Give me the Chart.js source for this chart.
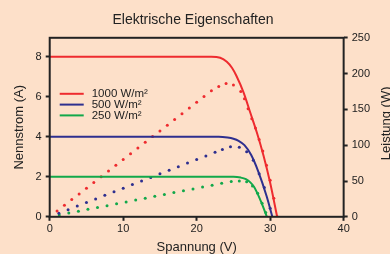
<!DOCTYPE html>
<html>
<head>
<meta charset="utf-8">
<script src="https://cdn.jsdelivr.net/npm/chart.js@4"></script>
<style>
  html, body { margin: 0; padding: 0; background: #fde0c9; overflow: hidden; }
  #wrap { width: 390px; height: 254px; }
</style>
</head>
<body>
<div id="wrap"><canvas id="chart"></canvas></div>
<script>
// Strom (A) über Spannung (V), je Einstrahlung
const v1000 = [0, 22, 23.2, 24.1, 24.8, 25.4, 26.4, 27.3, 28.2, 29.1, 30, 30.95];
const i1000 = [8, 8, 7.95, 7.75, 7.45, 7.05, 6.2, 5.2, 4.2, 3.05, 1.7, 0];
const v500 = [0, 23, 24.2, 25, 25.7, 26.5, 27.4, 28.4, 29.5, 30.3];
const i500 = [4, 4, 3.96, 3.9, 3.8, 3.58, 3.1, 2.25, 1.05, 0];
const v250 = [0, 25, 26, 26.7, 27.3, 27.8, 28.2, 28.8, 29.55];
const i250 = [2, 2, 1.96, 1.88, 1.72, 1.5, 1.22, 0.72, 0];

// Leistung (W), gepunktet
const pv1000 = [1, 2, 3, 4, 5, 6, 7, 8, 9, 10, 11, 12, 13, 14, 15, 16, 17, 18, 19, 20, 21, 22,
                23, 24, 25, 26, 26.5, 27, 27.5, 28, 28.5, 29, 29.5, 30, 30.5, 30.95];
const p1000 = [8, 16, 24, 32, 40, 48, 56, 64, 72, 80, 88, 96, 104, 112, 120, 128, 136, 144, 152, 160, 168, 176,
               182, 186, 184, 175, 165, 151, 137, 124, 108, 92, 72, 51, 26, 0];
const pv500 = [1.25, 2.5, 3.75, 5, 6.25, 7.5, 8.75, 10, 11.25, 12.5, 13.75, 15, 16.25, 17.5, 18.75, 20,
               21.25, 22.5, 23.5, 24.6, 25.8, 26.8, 27.7, 28.5, 29.2, 30];
const p500 = [5, 10, 15, 20, 25, 30, 35, 40, 45, 50, 55, 60, 65, 70, 75, 80,
              85, 90, 94, 98, 97, 91, 79, 60, 41, 12];
const pv250 = [1.3, 2.6, 3.9, 5.2, 6.5, 7.8, 9.1, 10.4, 11.7, 13, 14.3, 15.6, 16.9, 18.2, 19.5, 20.8,
               22.1, 23.4, 24.7, 25.8, 26.8, 27.6, 28.3, 28.9, 29.4];
const p250 = [2.6, 5.2, 7.8, 10.4, 13, 15.6, 18.2, 20.8, 23.4, 26, 28.6, 31.2, 33.8, 36.4, 39, 41.6,
              44.2, 46.8, 49.4, 50, 49, 43, 33, 19, 6];

const seriesLabels = ['1000 W/m²', '500 W/m²', '250 W/m²'];
const seriesColors = ['#ee2b2f', '#2e2f8f', '#12a84a'];
const xTicks = [0, 10, 20, 30, 40];
const yTicks = [0, 2, 4, 6, 8];
const y1Ticks = [0, 50, 100, 150, 200, 250];

const pts = (xs, ys) => xs.map((x, i) => ({ x, y: ys[i] }));
const ink = '#222';
const font = 'Arial, "Liberation Sans", sans-serif';

const curve = (label, xs, ys, color) => ({
  label, data: pts(xs, ys), yAxisID: 'y', showLine: true,
  borderColor: color, borderWidth: 2, pointRadius: 0,
  cubicInterpolationMode: 'monotone'
});
const dots = (xs, ys, color) => ({
  label: '', data: pts(xs, ys), yAxisID: 'y1', showLine: false,
  pointRadius: 1.5, pointBorderWidth: 0, pointBackgroundColor: color
});

// Rahmen, Legende im Plot und rechter Achsentitel
const extras = {
  id: 'extras',
  afterDraw(chart) {
    const { ctx, chartArea: a } = chart;
    ctx.save();
    ctx.strokeStyle = ink;
    ctx.lineWidth = 2;
    ctx.strokeRect(a.left, a.top, a.right - a.left, a.bottom - a.top);

    ctx.font = '11.5px ' + font;
    ctx.textBaseline = 'middle';
    seriesLabels.forEach((lab, i) => {
      const y = a.top + 56 + i * 10.8;
      ctx.strokeStyle = seriesColors[i];
      ctx.beginPath();
      ctx.moveTo(a.left + 10, y);
      ctx.lineTo(a.left + 34, y);
      ctx.stroke();
      ctx.fillStyle = ink;
      ctx.fillText(lab, a.left + 42, y + 0.5);
    });

    ctx.font = '13px ' + font;
    ctx.translate(386, (a.top + a.bottom) / 2 - 4);
    ctx.rotate(-Math.PI / 2);
    ctx.textAlign = 'center';
    ctx.fillText('Leistung (W)', 0, 0);
    ctx.restore();
  }
};

const gridOpts = { drawOnChartArea: false, tickLength: 4, tickColor: ink, tickWidth: 2 };
const tickFont = { family: font, size: 11 };

new Chart(document.getElementById('chart'), {
  type: 'scatter',
  data: {
    datasets: [
      curve(seriesLabels[0], v1000, i1000, seriesColors[0]),
      curve(seriesLabels[1], v500, i500, seriesColors[1]),
      curve(seriesLabels[2], v250, i250, seriesColors[2]),
      dots(pv1000, p1000, seriesColors[0]),
      dots(pv500, p500, seriesColors[1]),
      dots(pv250, p250, seriesColors[2])
    ]
  },
  options: {
    responsive: true,
    maintainAspectRatio: false,
    animation: false,
    layout: { padding: { left: 12, right: 16, top: 0, bottom: 0 } },
    plugins: {
      legend: { display: false },
      tooltip: { enabled: false },
      title: {
        display: true, text: 'Elektrische Eigenschaften', color: ink,
        font: { family: font, size: 14, weight: 'normal' },
        padding: { top: 12, bottom: 9 }
      }
    },
    scales: {
      x: {
        type: 'linear', min: 0, max: 40,
        afterBuildTicks: s => { s.ticks = xTicks.map(v => ({ value: v })); },
        grid: gridOpts, border: { display: false },
        ticks: { color: ink, font: tickFont, padding: 2 },
        title: { display: true, text: 'Spannung (V)', color: ink,
                 font: { family: font, size: 13, lineHeight: 1 }, padding: { top: 3, bottom: 0 } }
      },
      y: {
        position: 'left', min: 0, max: 8.95,
        afterBuildTicks: s => { s.ticks = yTicks.map(v => ({ value: v })); },
        grid: gridOpts, border: { display: false },
        ticks: { color: ink, font: tickFont, padding: 4 },
        title: { display: true, text: 'Nennstrom (A)', color: ink,
                 font: { family: font, size: 13 }, padding: { top: 0, bottom: 4 } }
      },
      y1: {
        position: 'right', min: 0, max: 250,
        afterBuildTicks: s => { s.ticks = y1Ticks.map(v => ({ value: v })); },
        grid: gridOpts, border: { display: false },
        ticks: { color: ink, font: tickFont, padding: 4 }
      }
    }
  },
  plugins: [extras]
});
</script>
</body>
</html>
